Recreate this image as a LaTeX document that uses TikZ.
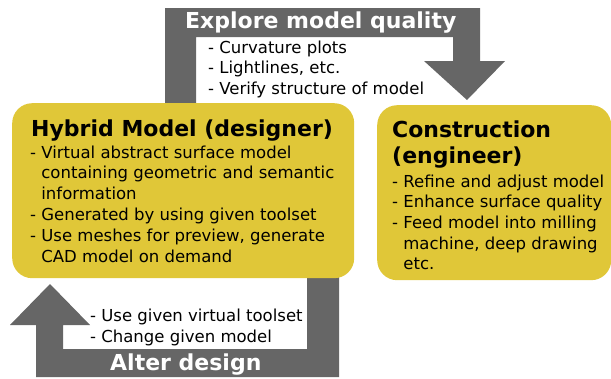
\documentclass[tikz,border=0pt]{standalone}
\usepackage{fontspec}
\setmainfont{DejaVu Sans}
\definecolor{boxyellow}{RGB}{224,199,56}
\definecolor{arrowgray}{RGB}{102,102,102}
\tikzset{
  yellowbox/.style={fill=boxyellow, draw=none, rounded corners=20pt, inner sep=0pt, anchor=north west},
  bigarrow/.style={fill=arrowgray, draw=none},
  titletext/.style={anchor=base west, inner sep=0pt, font=\fontsize{22}{27}\selectfont\bfseries},
  whitetitle/.style={titletext, text=white},
  itemtext/.style={anchor=base west, inner sep=0pt, font=\fontsize{16.5}{20.6}\selectfont},
}
\begin{document}
\begin{tikzpicture}[x=1pt,y=-1pt]
\useasboundingbox (0,0) rectangle (611,378);
% top arrow
\draw[bigarrow] (165,115) -- (165,8) -- (480,8) -- (480,61) -- (505,61) -- (467,100)
  -- (424,61) -- (453,61) -- (453,37) -- (196,37) -- (196,115) -- cycle;
% bottom arrow
\draw[bigarrow] (339,265) -- (339,377) -- (36,377) -- (36,325) -- (10,325) -- (50,284)
  -- (90,325) -- (63,325) -- (63,349) -- (307,349) -- (307,265) -- cycle;
% boxes
\node[yellowbox, minimum width=342pt, minimum height=175pt] (hyb) at (12,103) {};
\node[yellowbox, minimum width=234pt, minimum height=175pt] (con) at (377,105) {};
% top arrow labels
\node[whitetitle] (explore) at (185,28) {Explore model quality};
\node[itemtext] (e1) at (208,53) {- Curvature plots};
\node[itemtext] (e2) at (208,73.5) {- Lightlines, etc.};
\node[itemtext] (e3) at (208,94) {- Verify structure of model};
% hybrid box
\node[titletext] (htitle) at (31,136) {Hybrid Model (designer)};
\node[itemtext] (h1) at (30,158) {- Virtual abstract surface model};
\node[itemtext] (h2) at (41.2,178.8) {containing geometric and semantic};
\node[itemtext] (h3) at (41.2,199.6) {information};
\node[itemtext] (h4) at (30,220.4) {- Generated by using given toolset};
\node[itemtext] (h5) at (30,241.2) {- Use meshes for preview, generate};
\node[itemtext] (h6) at (41.2,262) {CAD model on demand};
% construction box
\node[titletext] (ctitle1) at (392,137) {Construction};
\node[titletext] (ctitle2) at (392,163) {(engineer)};
\node[itemtext] (c1) at (392,187) {- Refine and adjust model};
\node[itemtext] (c2) at (392,207.5) {- Enhance surface quality};
\node[itemtext] (c3) at (392,228) {- Feed model into milling};
\node[itemtext] (c4) at (403.2,249) {machine, deep drawing};
\node[itemtext] (c5) at (403.2,269) {etc.};
% bottom arrow labels
\node[itemtext] (a1) at (90,321) {- Use given virtual toolset};
\node[itemtext] (a2) at (90,342) {- Change given model};
\node[whitetitle] (alter) at (110,370) {Alter design};
\end{tikzpicture}
\end{document}
